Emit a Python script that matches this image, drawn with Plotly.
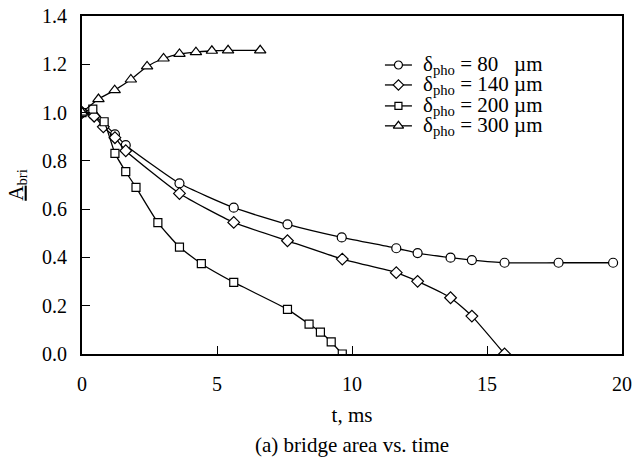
import plotly.graph_objects as go

# ---- Data ----
t80 = [0, 0.42, 1.22, 1.62, 3.61, 5.62, 7.61, 9.62, 11.64, 12.43, 13.65, 14.44, 15.65, 17.65, 19.67]
a80 = [1.0, 0.99, 0.91, 0.865, 0.707, 0.606, 0.537, 0.483, 0.438, 0.418, 0.399, 0.389, 0.378, 0.378, 0.378]

t140 = [0, 0.45, 0.79, 1.22, 1.62, 3.61, 5.62, 7.61, 9.64, 11.64, 12.43, 13.65, 14.44, 15.65]
a140 = [1.0, 0.985, 0.941, 0.896, 0.842, 0.665, 0.545, 0.469, 0.393, 0.337, 0.301, 0.233, 0.157, 0.0]

t200 = [0, 0.40, 0.82, 1.22, 1.62, 2.0, 2.81, 3.61, 4.42, 5.62, 7.61, 8.41, 8.83, 9.23, 9.64]
a200 = [1.0, 1.014, 0.962, 0.831, 0.755, 0.69, 0.544, 0.443, 0.374, 0.297, 0.185, 0.124, 0.091, 0.050, 0.0]

t300 = [0, 0.61, 1.21, 1.81, 2.41, 3.02, 3.61, 4.22, 4.81, 5.41, 6.6]
a300 = [1.0, 1.056, 1.093, 1.137, 1.191, 1.224, 1.243, 1.250, 1.256, 1.258, 1.258]

names = ["δ<sub>pho</sub> = 80   µm", "δ<sub>pho</sub> = 140 µm",
         "δ<sub>pho</sub> = 200 µm", "δ<sub>pho</sub> = 300 µm"]
x_ticks = [0, 5, 10, 15, 20]
y_ticks = [0, 0.2, 0.4, 0.6, 0.8, 1.0, 1.2, 1.4]

# ---- Styles / layout constants ----
symbols = ["circle", "diamond", "square", "triangle-up"]
sizes = [9, 9, 8, 10]
FONT = "Liberation Serif, Times New Roman, serif"
X_RANGE = [0, 20]
Y_RANGE = [0, 1.4]
# manual legend placement (fractions of the plot area)
LEG_ROWS = [0.855, 0.796, 0.734, 0.675]
LEG_X0, LEG_XM, LEG_X1, LEG_XT = 0.561, 0.586, 0.611, 0.628


def fx(f):
    return X_RANGE[0] + f * (X_RANGE[1] - X_RANGE[0])


def fy(f):
    return Y_RANGE[0] + f * (Y_RANGE[1] - Y_RANGE[0])


fig = go.Figure()
series = [(t80, a80), (t140, a140), (t200, a200), (t300, a300)]
for (x, y), nm, sym, sz in zip(series, names, symbols, sizes):
    fig.add_trace(go.Scatter(
        x=x, y=y, name=nm, mode="lines+markers", showlegend=False,
        line=dict(color="black", width=1.3, shape="spline", smoothing=0.5),
        marker=dict(symbol=sym, size=sz, color="white",
                    line=dict(color="black", width=1.2)),
    ))

# manual legend: sample lines with markers, and labels
for ry, nm, sym, sz in zip(LEG_ROWS, names, symbols, sizes):
    fig.add_trace(go.Scatter(
        x=[fx(LEG_X0), fx(LEG_X1)], y=[fy(ry)] * 2,
        mode="lines", showlegend=False, hoverinfo="skip",
        line=dict(color="black", width=1.3),
    ))
    fig.add_trace(go.Scatter(
        x=[fx(LEG_XM)], y=[fy(ry)],
        mode="markers", showlegend=False, hoverinfo="skip",
        marker=dict(symbol=sym, size=sz - 1, color="white",
                    line=dict(color="black", width=1.2)),
    ))
    fig.add_annotation(text=nm, xref="paper", yref="paper", x=LEG_XT, y=ry,
                       xanchor="left", yanchor="middle", showarrow=False,
                       font=dict(family=FONT, size=21, color="black"))

fig.update_layout(
    width=634, height=459,
    margin=dict(l=82, r=12, t=16, b=105),
    paper_bgcolor="white", plot_bgcolor="white",
    font=dict(family=FONT, size=20, color="black"),
    showlegend=False,
    xaxis=dict(
        range=X_RANGE, tickvals=x_ticks, ticks="inside", ticklen=8,
        tickcolor="black", showline=True, linecolor="black", linewidth=2,
        mirror=True, showgrid=False, zeroline=False, automargin=False,
        ticklabelstandoff=11, tickfont=dict(size=20),
        title=dict(text="t, ms", standoff=13, font=dict(size=21)),
    ),
    yaxis=dict(
        range=Y_RANGE, tickvals=y_ticks,
        tickformat=".1f", ticks="inside", ticklen=8, tickcolor="black",
        showline=True, linecolor="black", linewidth=2, mirror=True,
        showgrid=False, zeroline=False, automargin=False,
        ticklabelstandoff=9, tickfont=dict(size=20),
        title=dict(text="<u>A</u><sub>bri</sub>", standoff=13, font=dict(size=21)),
    ),
)
fig.add_annotation(text="(a) bridge area vs. time", xref="paper", yref="paper",
                   x=0.5, y=-(445 - 354) / 338, xanchor="center", yanchor="middle",
                   showarrow=False, font=dict(family=FONT, size=21))

fig.write_html("out.html")
